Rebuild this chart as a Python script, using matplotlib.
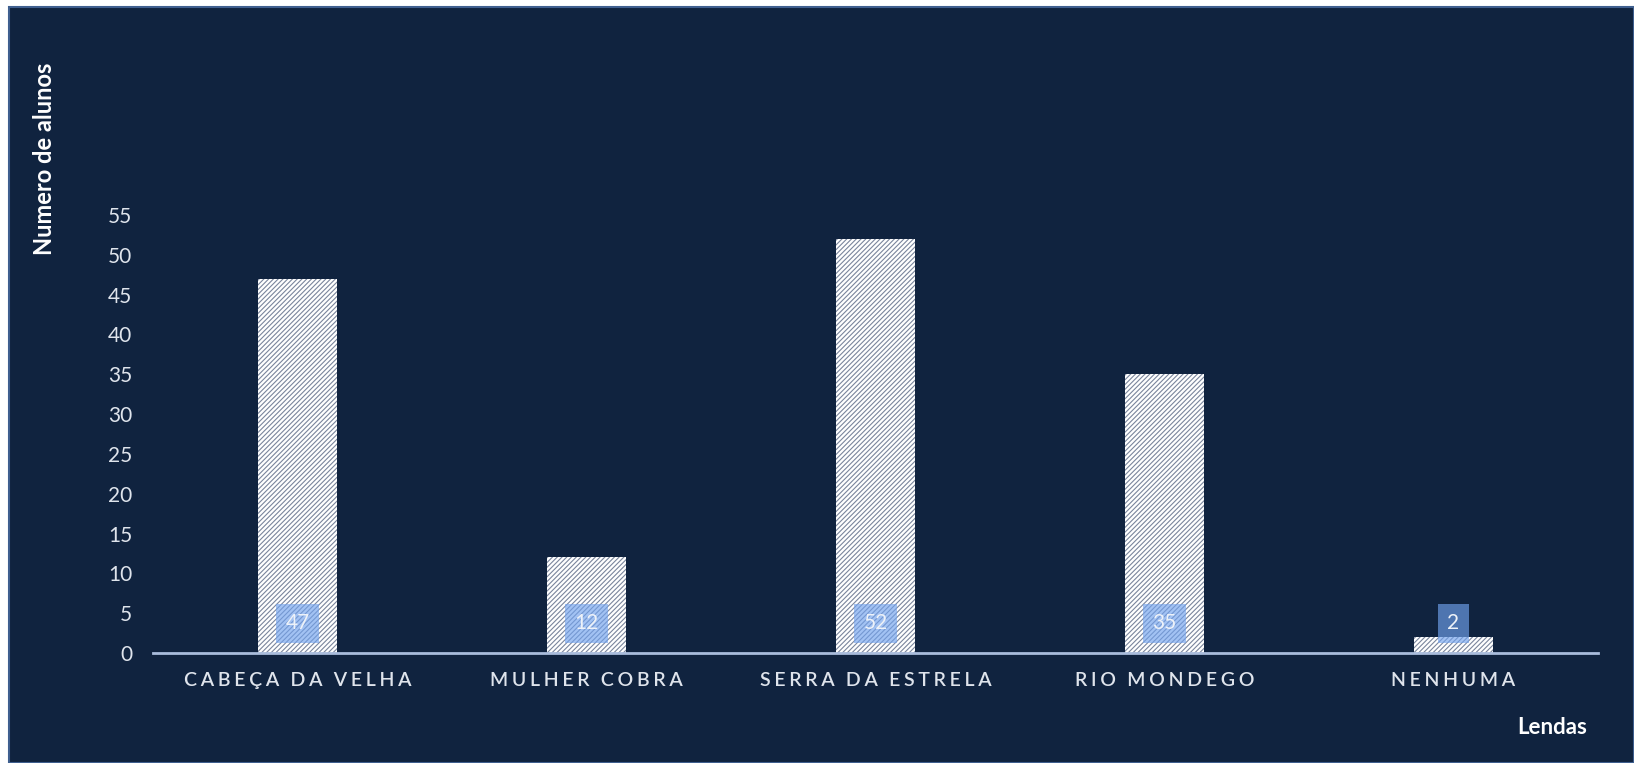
import matplotlib.pyplot as plt
from matplotlib.patches import Rectangle

# 데이터
lendas = ["CABEÇA DA VELHA", "MULHER COBRA", "SERRA DA ESTRELA", "RIO MONDEGO", "NENHUMA"]
alunos = [47, 12, 52, 35, 2]
y_ticks = list(range(0, 60, 5))

bg = "#10233f"
txt = "#dfe4ec"

plt.rcParams["font.family"] = ["Lato", "DejaVu Sans"]
plt.rcParams["hatch.linewidth"] = 0.8


def spaced(s):
    # 글자 사이 간격 넓히기
    gap = "\u2009\u200a"
    return gap.join(s).replace(gap + " " + gap, gap * 3)


fig = plt.figure(figsize=(16.34, 7.63), dpi=100)
fig.patch.set_facecolor("white")
fig.patches.append(Rectangle((9 / 1634, 0), 1 - 9 / 1634, 1 - 7 / 763,
                             transform=fig.transFigure, facecolor=bg,
                             edgecolor="#3f5f8f", linewidth=1.5, zorder=-5))

ax = fig.add_axes([153 / 1634, 1 - 653 / 763, 1445 / 1634, (653 - 215) / 763])
ax.set_facecolor("none")
ax.set_zorder(2)

x = range(len(lendas))
bars = ax.bar(x, alunos, width=0.273, color="white", edgecolor="#7a859c",
              linewidth=0, hatch="///////")

for i, v in enumerate(alunos):
    ax.text(i, 3.75, str(v), ha="center", va="center", fontsize=15, color="#eef2f8",
            bbox=dict(boxstyle="square,pad=0.45", facecolor="#71a2ee", alpha=0.65,
                      edgecolor="none"))

ax.set_xlim(-0.5, 4.5)
ax.set_ylim(0, 55)
ax.set_yticks(y_ticks)
ax.set_xticks(list(x))
ax.set_xticklabels([spaced(s) for s in lendas], fontsize=14, color=txt,
                   fontweight="semibold")
ax.tick_params(axis="y", length=0, pad=15, labelsize=15, labelcolor=txt)
ax.tick_params(axis="x", length=0, pad=14)

for side in ["top", "right", "left"]:
    ax.spines[side].set_visible(False)
ax.spines["bottom"].set_color("#a9bcdc")
ax.spines["bottom"].set_linewidth(2)

fig.text(45 / 1634, 1 - 159 / 763, "Numero de alunos", rotation=90, ha="center",
         va="center", fontsize=17, fontweight="bold", color="white", zorder=3)
fig.text(1552 / 1634, 1 - 728 / 763, "Lendas", ha="center", va="center",
         fontsize=16, fontweight="bold", color="white", zorder=3)

fig.savefig("out.png", dpi=100, facecolor=fig.get_facecolor())
